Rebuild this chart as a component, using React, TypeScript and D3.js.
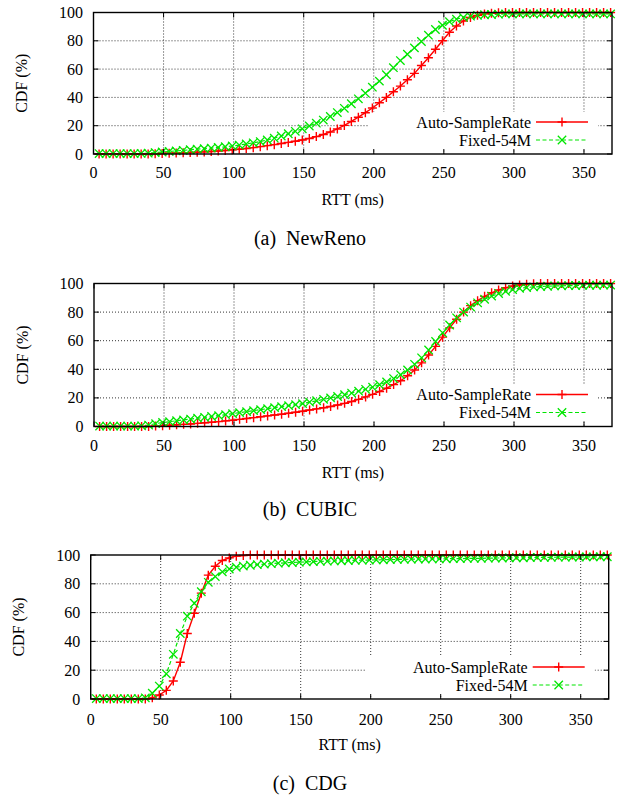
import React from 'react';
import * as d3 from 'd3';

// RTT sample positions (ms) at which the CDF points are plotted
const RTT_SAMPLES = [
  4, 9, 14, 19, 24, 29, 34, 39, 44, 49, 54, 59, 64, 69, 74, 79, 84, 89, 94, 99,
  104, 109, 114, 119, 124, 129, 134, 139, 144, 149, 154, 159, 164, 169, 174, 179, 184, 189, 194, 199,
  204, 209, 214, 219, 224, 229, 234, 239, 244, 249, 254, 259, 264, 269, 274, 279, 284, 289, 294, 299,
  304, 309, 314, 319, 324, 329, 334, 339, 344, 349, 354, 359, 364, 369,
];

const X_TICKS = [0, 50, 100, 150, 200, 250, 300, 350];
const Y_TICKS = [0, 20, 40, 60, 80, 100];
const SERIES_NAMES = ['Auto-SampleRate', 'Fixed-54M'];
const CAPTIONS = ['(a)  NewReno', '(b)  CUBIC', '(c)  CDG'];
const X_LABEL = 'RTT (ms)';
const Y_LABEL = 'CDF (%)';

const NEWRENO_AUTO = [
  0, 0, 0, 0, 0, 0, 0, 0,
  0.2, 0.4, 0.5, 0.7, 0.8, 1.0, 1.2, 1.5, 1.8, 2.1,
  2.5, 3.0, 3.4, 3.9, 4.5, 5.2, 5.9, 6.6, 7.4, 8.2,
  9.0, 9.9, 11.0, 12.3, 13.8, 15.6, 17.7, 20.2, 23.0, 26.0,
  29.2, 32.5, 36.2, 40.0, 44.0, 48.0, 52.5, 57.0, 62.5, 68.0,
  74.0, 80.0, 86.0, 90.5, 94.0, 96.5, 98.0, 99.0, 99.5, 99.8,
  100, 100, 100, 100, 100, 100, 100, 100, 100, 100, 100, 100, 100, 100, 100, 100,
];
const NEWRENO_FIXED = [
  0.3, 0.3, 0.3, 0.3, 0.3, 0.3, 0.4, 0.6,
  1.0, 1.4, 1.8, 2.2, 2.6, 3.0, 3.4, 3.8, 4.2, 4.6,
  5.1, 5.7, 6.3, 7.1, 7.9, 8.8, 9.9, 11.2, 12.7, 14.3,
  16.0, 17.8, 19.8, 21.8, 24.0, 26.5, 29.3, 32.3, 35.5, 39.0,
  43.0, 47.2, 51.5, 56.0, 61.0, 66.0, 70.5, 75.0, 79.5, 84.0,
  88.0, 91.0, 93.5, 95.3, 96.5, 97.4, 98.0, 98.4, 98.6, 98.8,
  99, 99, 99, 99, 99, 99, 99, 99, 99, 99, 99, 99, 99, 99, 99, 99,
];
const CUBIC_AUTO = [
  0, 0, 0, 0, 0, 0, 0, 0,
  0.3, 0.6, 0.9, 1.2, 1.5, 1.8, 2.2, 2.6, 3.0, 3.4,
  3.9, 4.4, 5.0, 5.6, 6.2, 6.8, 7.4, 8.0, 8.6, 9.3,
  10.0, 10.7, 11.5, 12.3, 13.1, 14.0, 15.0, 16.2, 17.5, 19.0,
  20.7, 22.5, 24.5, 26.8, 29.3, 32.0, 35.5, 39.5, 44.5, 50.0,
  56.0, 62.5, 69.0, 75.0, 80.0, 84.5, 88.0, 91.0, 93.5, 95.5,
  97.0, 98.2, 99.0, 99.5, 99.8,
  100, 100, 100, 100, 100, 100, 100, 100, 100, 100, 100,
];
const CUBIC_FIXED = [
  0.3, 0.3, 0.3, 0.3, 0.3, 0.3, 0.5, 1.0,
  2.0, 2.8, 3.4, 4.0, 4.6, 5.2, 5.8, 6.4, 7.0, 7.6,
  8.3, 9.0, 9.7, 10.4, 11.1, 11.8, 12.5, 13.2, 13.9, 14.6,
  15.3, 16.0, 17.0, 18.0, 19.0, 20.0, 21.0, 22.2, 23.4, 24.7,
  26.0, 27.5, 29.2, 31.2, 33.5, 36.2, 39.5, 43.5, 48.0, 53.5,
  59.5, 65.5, 71.0, 76.0, 80.0, 83.5, 86.5, 89.0, 91.2, 93.0,
  94.5, 95.7, 96.6, 97.2, 97.6, 97.9, 98.1, 98.3, 98.4, 98.5,
  98.6, 98.7, 98.8, 98.8, 98.9, 98.9,
];
const CDG_AUTO = [
  0, 0, 0, 0, 0, 0, 0, 0,
  0.8, 2.8, 6.0, 12.5, 25.5, 45.5, 59.5, 73.5, 86.0, 92.2,
  96.2, 98.0, 99.2, 99.7,
  100, 100, 100, 100, 100, 100, 100, 100, 100, 100, 100, 100, 100, 100, 100, 100, 100,
  100, 100, 100, 100, 100, 100, 100, 100, 100, 100, 100, 100, 100, 100, 100, 100, 100,
  100, 100, 100, 100, 100, 100, 100, 100, 100, 100, 100, 100, 100, 100, 100, 100, 100, 100,
];
const CDG_FIXED = [
  0.3, 0.3, 0.3, 0.3, 0.3, 0.3, 0.3, 0.8,
  4.0, 9.0, 17.5, 31.0, 45.5, 57.5, 66.5, 74.5, 81.0, 85.0,
  88.3, 90.3, 91.5, 92.3, 92.9, 93.3, 93.7, 94.0, 94.3, 94.6,
  94.8, 95.0, 95.2, 95.4, 95.6, 95.7, 95.9, 96.0, 96.2, 96.3,
  96.4, 96.5, 96.6, 96.7, 96.8, 96.9, 97.0, 97.1, 97.2, 97.2,
  97.3, 97.3, 97.4, 97.5, 97.5, 97.6, 97.7, 97.7, 97.8, 97.9,
  97.9, 98.0, 98.1, 98.1, 98.2, 98.3, 98.3, 98.4, 98.5, 98.5,
  98.6, 98.6, 98.7, 98.7, 98.8, 98.8,
];

const PANEL_DATA = [
  [NEWRENO_AUTO, NEWRENO_FIXED],
  [CUBIC_AUTO, CUBIC_FIXED],
  [CDG_AUTO, CDG_FIXED],
];

const LAYOUT = [
  { left: 93.5, right: 612, top: 12.5, bottom: 154, ticksY: 172, labelY: 199, capY: 238 },
  { left: 94, right: 612, top: 283.5, bottom: 426.5, ticksY: 445, labelY: 472, capY: 509 },
  { left: 90.7, right: 608.7, top: 555, bottom: 699, ticksY: 719, labelY: 744, capY: 783 },
];

const RED = '#ff0000';
const GREEN = '#00e600';
const FONT = '"Liberation Serif", "Times New Roman", serif';

function Plus({ cx, cy, color }: { cx: number; cy: number; color: string }) {
  const s = 4.5;
  return (
    <path d={`M${cx - s},${cy}H${cx + s}M${cx},${cy - s}V${cy + s}`} stroke={color} strokeWidth={1.4} fill="none" />
  );
}
function Cross({ cx, cy, color }: { cx: number; cy: number; color: string }) {
  const s = 4.2;
  return (
    <path
      d={`M${cx - s},${cy - s}L${cx + s},${cy + s}M${cx - s},${cy + s}L${cx + s},${cy - s}`}
      stroke={color}
      strokeWidth={1.3}
      fill="none"
    />
  );
}

function Panel({ idx }: { idx: number }) {
  const L = LAYOUT[idx];
  const [auto, fixed] = PANEL_DATA[idx];
  const x = d3.scaleLinear().domain([0, 370]).range([L.left, L.right]);
  const y = d3.scaleLinear().domain([0, 100]).range([L.bottom, L.top]);
  const line = d3
    .line<number>()
    .x((_, i) => x(RTT_SAMPLES[i]))
    .y((d) => y(d));
  const tick = 5;
  const R = L.right;
  const B = L.bottom;
  const midX = (L.left + L.right) / 2;
  const midY = (L.top + L.bottom) / 2;
  return (
    <g>
      {/* grid */}
      {X_TICKS.filter((t) => t > 0).map((t) => (
        <line key={'gx' + t} x1={x(t)} x2={x(t)} y1={L.top} y2={L.bottom} stroke="#000" strokeWidth={0.8} strokeDasharray="1,2" />
      ))}
      {Y_TICKS.filter((t) => t > 0 && t < 100).map((t) => (
        <line key={'gy' + t} x1={L.left} x2={L.right} y1={y(t)} y2={y(t)} stroke="#000" strokeWidth={0.8} strokeDasharray="1,2" />
      ))}
      {/* opaque key background */}
      <rect x={R - 243} y={B - 42} width={229} height={37} fill="#fff" />
      {/* series */}
      <path d={line(auto) || ''} fill="none" stroke={RED} strokeWidth={1.4} />
      <path d={line(fixed) || ''} fill="none" stroke={GREEN} strokeWidth={1.2} strokeDasharray="4,2.5" />
      {auto.map((v, i) => (
        <Plus key={'p' + i} cx={x(RTT_SAMPLES[i])} cy={y(v)} color={RED} />
      ))}
      {fixed.map((v, i) => (
        <Cross key={'c' + i} cx={x(RTT_SAMPLES[i])} cy={y(v)} color={GREEN} />
      ))}
      {/* border */}
      <rect x={L.left} y={L.top} width={L.right - L.left} height={L.bottom - L.top} fill="none" stroke="#000" strokeWidth={1.4} />
      {/* ticks */}
      {X_TICKS.map((t) => (
        <g key={'tx' + t}>
          <line x1={x(t)} x2={x(t)} y1={L.bottom} y2={L.bottom - tick} stroke="#000" strokeWidth={1} />
          <line x1={x(t)} x2={x(t)} y1={L.top} y2={L.top + tick} stroke="#000" strokeWidth={1} />
          <text x={x(t)} y={L.ticksY} textAnchor="middle" dominantBaseline="central" fontSize={16} fontFamily={FONT}>
            {t}
          </text>
        </g>
      ))}
      {Y_TICKS.map((t) => (
        <g key={'ty' + t}>
          <line x1={L.left} x2={L.left + tick} y1={y(t)} y2={y(t)} stroke="#000" strokeWidth={1} />
          <line x1={L.right} x2={L.right - tick} y1={y(t)} y2={y(t)} stroke="#000" strokeWidth={1} />
          <text x={L.left - 10.5} y={y(t)} textAnchor="end" dominantBaseline="central" fontSize={16} fontFamily={FONT}>
            {t}
          </text>
        </g>
      ))}
      {/* axis labels */}
      <text x={midX} y={L.labelY} textAnchor="middle" dominantBaseline="central" fontSize={16} fontFamily={FONT}>
        {X_LABEL}
      </text>
      <text
        transform={`translate(${L.left - 72},${midY}) rotate(-90)`}
        textAnchor="middle"
        dominantBaseline="central"
        fontSize={16}
        fontFamily={FONT}
      >
        {Y_LABEL}
      </text>
      {/* legend */}
      {SERIES_NAMES.map((name, k) => {
        const ry = B - 32 + k * 18;
        return (
          <g key={'lg' + k}>
            <text x={R - 81} y={ry} textAnchor="end" dominantBaseline="central" fontSize={16} fontFamily={FONT}>
              {name}
            </text>
            <line
              x1={R - 76}
              x2={R - 24}
              y1={ry}
              y2={ry}
              stroke={k === 0 ? RED : GREEN}
              strokeWidth={k === 0 ? 1.4 : 1.2}
              strokeDasharray={k === 0 ? undefined : '4,2.5'}
            />
            {k === 0 ? <Plus cx={R - 50} cy={ry} color={RED} /> : <Cross cx={R - 50} cy={ry} color={GREEN} />}
          </g>
        );
      })}
      {/* caption */}
      <text x={310} y={L.capY} textAnchor="middle" dominantBaseline="central" fontSize={20} fontFamily={FONT} style={{ whiteSpace: 'pre' }}>
        {CAPTIONS[idx]}
      </text>
    </g>
  );
}

export default function App() {
  return (
    <svg width={620} height={798} style={{ position: 'absolute', left: 0, top: 0, background: '#fff' }}>
      <rect x={0} y={0} width={620} height={798} fill="#fff" />
      {[0, 1, 2].map((i) => (
        <Panel key={i} idx={i} />
      ))}
    </svg>
  );
}
